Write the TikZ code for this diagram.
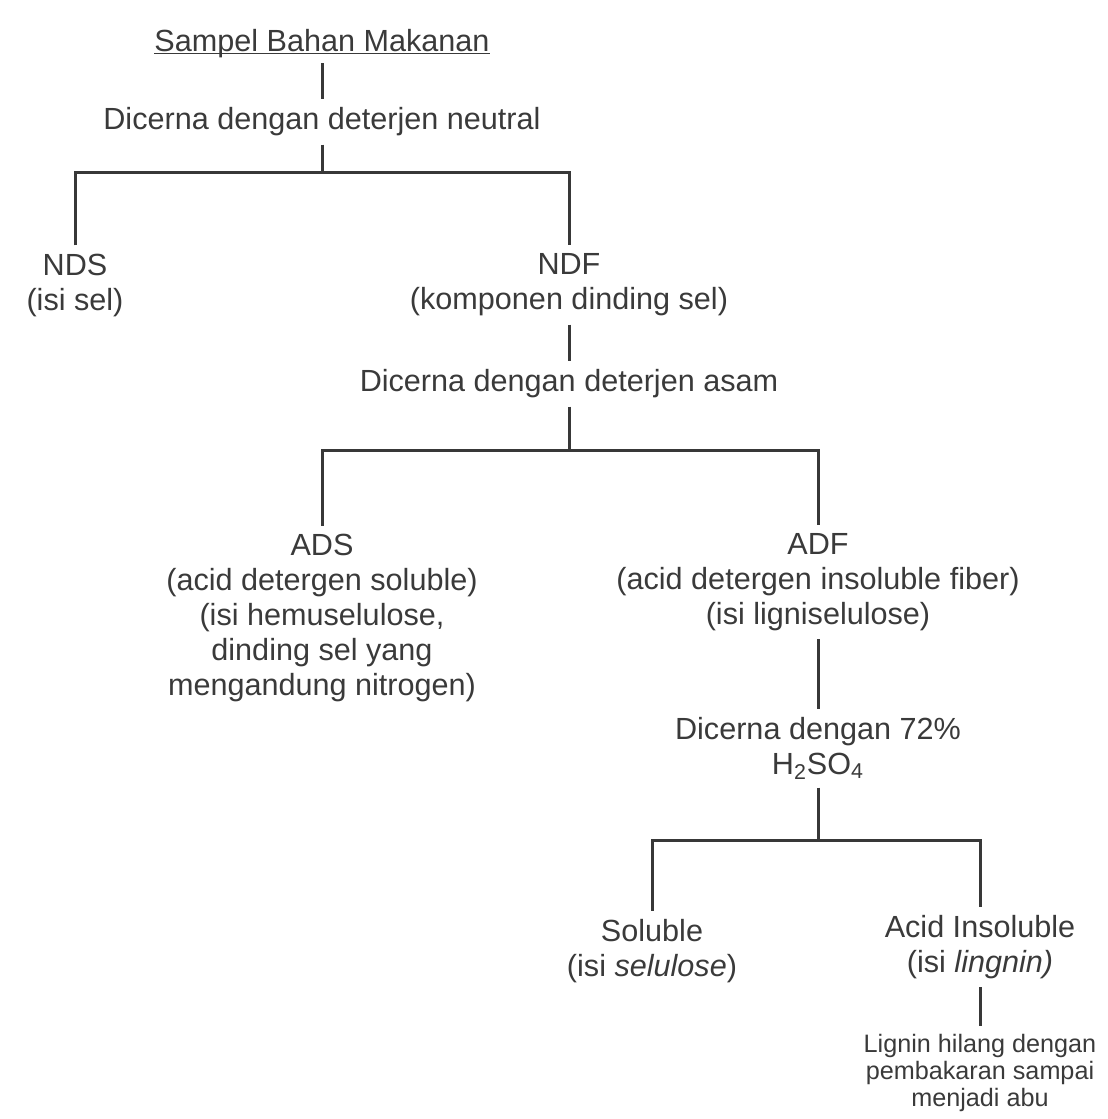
\documentclass[tikz,border=0pt]{standalone}
\usepackage{fontspec}
\setmainfont{Liberation Sans}
\usepackage{xcolor}
\definecolor{INK}{HTML}{3A3A3A}
\definecolor{WIRE}{HTML}{383838}

\begin{document}
\begin{tikzpicture}[
    x=0.5pt, y=-0.5pt,
    txt/.style={font=\fontsize{15.3}{17.5}\selectfont, text=INK, align=center, inner xsep=2pt, inner ysep=4pt},
    small/.style={font=\fontsize{12.6}{13.6}\selectfont, text=INK, align=center, inner ysep=4pt},
    link/.style={draw=WIRE, line width=1.5pt},
  ]
  \useasboundingbox (0,0) rectangle (1108,1119);

  % sample and neutral detergent
  \node[txt] (sample) at (322,53) {\underline{\smash{Sampel Bahan Makanan}}};
  \node[txt] (neutral) at (322,122) {Dicerna dengan deterjen neutral};
  \coordinate (splitN) at (322,172);
  \node[txt] (nds) at (75,285) {NDS\\(isi sel)};
  \node[txt] (ndf) at (569,285) {NDF\\(komponen dinding sel)};

  % acid detergent
  \node[txt] (acid) at (569,384) {Dicerna dengan deterjen asam};
  \coordinate (splitA) at (569,450);
  \node[txt] (ads) at (322,618) {ADS\\(acid detergen soluble)\\(isi hemuselulose,\\dinding sel yang\\mengandung nitrogen)};
  \node[txt] (adf) at (818,582) {ADF\\(acid detergen insoluble fiber)\\(isi ligniselulose)};

  % sulfuric acid
  \node[txt] (sulf) at (818,748) {Dicerna dengan 72\%\\H\textsubscript{2}SO\textsubscript{4}};
  \coordinate (splitS) at (818,840);
  \node[txt] (sol) at (652,951) {Soluble\\(isi \textit{selulose})};
  \node[txt] (insol) at (980,947) {Acid Insoluble\\(isi \textit{lingnin)}};
  \node[small] (ash) at (980,1073) {Lignin hilang dengan\\pembakaran sampai\\menjadi abu};

  % connectors
  \draw[link] (sample) -- (neutral);
  \draw[link] (neutral) -- (splitN);
  \draw[link] (nds) |- (splitN) -| (ndf);
  \draw[link] (ndf) -- (acid);
  \draw[link] (acid) -- (splitA);
  \draw[link] (ads) |- (splitA) -| (adf);
  \draw[link] (adf) -- (sulf);
  \draw[link] (sulf) -- (splitS);
  \draw[link] (sol) |- (splitS) -| (insol);
  \draw[link] (insol) -- (ash);

\end{tikzpicture}
\end{document}
